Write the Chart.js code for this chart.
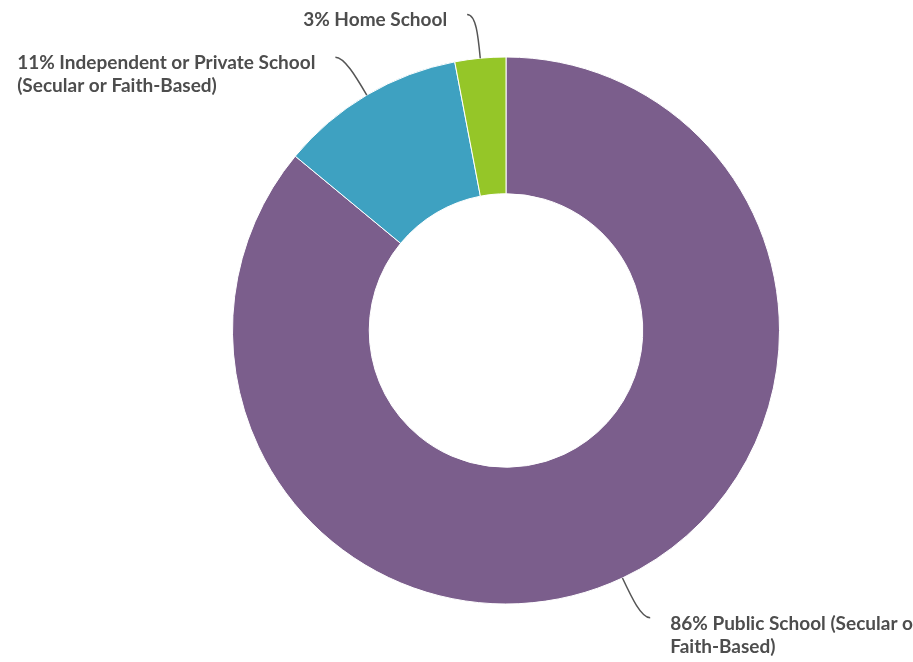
<!DOCTYPE html>
<html>
<head>
<meta charset="utf-8">
<script src="https://cdn.jsdelivr.net/npm/chart.js@4/dist/chart.umd.min.js"></script>
<style>
  html, body { margin: 0; padding: 0; background: #ffffff; }
  #wrap { position: relative; width: 913px; height: 662px; overflow: hidden; }
  canvas { display: block; }
</style>
</head>
<body>
<div id="wrap"><canvas id="chart" width="913" height="662"></canvas></div>
<script>
// School type shares (percent)
const categories = [
  ['Public School (Secular or', 'Faith-Based)'],
  ['Independent or Private School', '(Secular or Faith-Based)'],
  ['Home School']
];
const shares = [86, 11, 3];
const sliceColors = ['#7b5e8c', '#3ea1c1', '#95c628'];

const TEXT_COLOR = '#4d4d4d';
const LINE_COLOR = '#555555';
const FONT = 'bold 19px Lato';
const LINE_HEIGHT = 23;

// Callout labels with curved leader lines from each slice's outer edge
const calloutPlugin = {
  id: 'callouts',
  afterDatasetsDraw(chart) {
    const ctx = chart.ctx;
    const meta = chart.getDatasetMeta(0);
    const data = chart.data.datasets[0].data;
    meta.data.forEach((arc, i) => {
      const p = arc.getProps(['x', 'y', 'startAngle', 'endAngle', 'outerRadius']);
      const mid = (p.startAngle + p.endAngle) / 2;
      const dx = Math.cos(mid), dy = Math.sin(mid);
      const side = dx >= 0 ? 1 : -1;
      const sx = p.x + dx * p.outerRadius;
      const sy = p.y + dy * p.outerRadius;
      const cx = sx + dx * 44;
      const cy = sy + dy * 44;
      const ex = cx + side * 9;
      const ey = cy;

      ctx.save();
      ctx.strokeStyle = LINE_COLOR;
      ctx.lineWidth = 1.5;
      ctx.beginPath();
      ctx.moveTo(sx, sy);
      ctx.bezierCurveTo(sx + dx * 22, sy + dy * 22, cx, cy, ex, ey);
      ctx.stroke();

      ctx.fillStyle = TEXT_COLOR;
      ctx.font = FONT;
      ctx.textBaseline = 'alphabetic';
      ctx.textAlign = 'left';
      const lines = categories[i].slice();
      lines[0] = data[i] + '% ' + lines[0];
      const blockW = Math.max(...lines.map(ln => ctx.measureText(ln).width));
      const tx = side > 0 ? ex + 20 : ex - 20 - blockW;
      lines.forEach((ln, k) => {
        ctx.fillText(ln, tx, ey + 12 + k * LINE_HEIGHT);
      });
      ctx.restore();
    });
  }
};

function draw() {
  new Chart(document.getElementById('chart'), {
    type: 'doughnut',
    data: {
      labels: categories.map(c => c.join(' ')),
      datasets: [{
        data: shares,
        backgroundColor: sliceColors,
        borderColor: '#ffffff',
        borderWidth: 1
      }]
    },
    options: {
      responsive: false,
      animation: false,
      cutout: '50%',
      rotation: 0,
      layout: { padding: { left: 232, right: 133, top: 56, bottom: 57 } },
      plugins: {
        legend: { display: false },
        tooltip: { enabled: false }
      }
    },
    plugins: [calloutPlugin]
  });
}

if (document.fonts && document.fonts.load) {
  document.fonts.load(FONT).then(draw, draw);
} else {
  draw();
}
</script>
</body>
</html>
